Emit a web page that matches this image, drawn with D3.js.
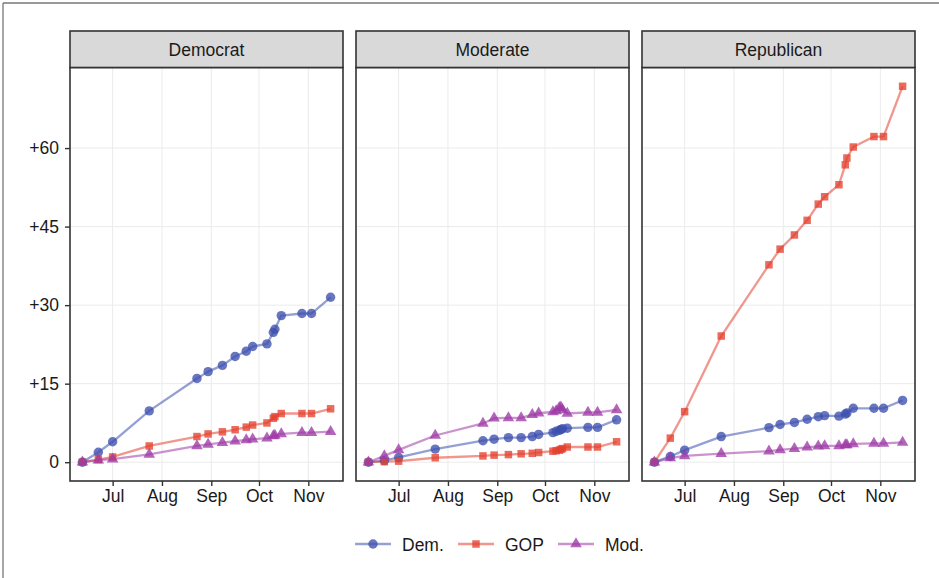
<!DOCTYPE html>
<html>
<head>
<meta charset="utf-8">
<script src="https://cdn.jsdelivr.net/npm/d3@7/dist/d3.min.js"></script>
<style>
  html, body { margin: 0; padding: 0; background: #fff; }
  svg { display: block; font-family: "Liberation Sans", Arial, sans-serif; }
</style>
</head>
<body>
<svg id="chart" width="939" height="578"></svg>
<script>
// ---- data ---------------------------------------------------------------
const panels = ["Democrat", "Moderate", "Republican"];
const seriesNames = ["Dem.", "GOP", "Mod."];
const monthTicks = ["2020-07-01", "2020-08-01", "2020-09-01", "2020-10-01", "2020-11-01"];
const monthLabels = ["Jul", "Aug", "Sep", "Oct", "Nov"];
const yTicks = [0, 15, 30, 45, 60];
const yTickLabels = ["0", "+15", "+30", "+45", "+60"];

// observation dates (Democrat and Republican panels)
const dates = ["2020-06-12", "2020-06-22", "2020-07-01", "2020-07-24", "2020-08-23",
  "2020-08-30", "2020-09-08", "2020-09-16", "2020-09-23", "2020-09-27", "2020-10-06",
  "2020-10-10", "2020-10-11", "2020-10-15", "2020-10-28", "2020-11-03", "2020-11-15"];
// Moderate panel has extra readings in mid-October
const datesModerate = ["2020-06-12", "2020-06-22", "2020-07-01", "2020-07-24", "2020-08-23",
  "2020-08-30", "2020-09-08", "2020-09-16", "2020-09-23", "2020-09-27", "2020-10-06",
  "2020-10-08", "2020-10-10", "2020-10-11", "2020-10-12", "2020-10-15", "2020-10-28",
  "2020-11-03", "2020-11-15"];

const democratDem = [0, 1.9, 3.9, 9.8, 16.0, 17.3, 18.5, 20.2, 21.2, 22.1, 22.6, 24.8, 25.4, 28.0, 28.4, 28.4, 31.5];
const democratGOP = [0, 0.5, 1.0, 3.1, 4.9, 5.4, 5.8, 6.2, 6.7, 7.1, 7.5, 8.4, 8.7, 9.3, 9.3, 9.3, 10.2];
const democratMod = [0, 0.4, 0.6, 1.5, 3.1, 3.4, 3.75, 4.0, 4.25, 4.4, 4.6, 5.0, 5.1, 5.4, 5.65, 5.65, 5.85];

const moderateDem = [0, 0.3, 0.9, 2.5, 4.1, 4.4, 4.7, 4.7, 4.9, 5.3, 5.65, 5.9, 6.1, 6.2, 6.4, 6.5, 6.65, 6.65, 8.1];
const moderateGOP = [0, 0.1, 0.2, 0.85, 1.2, 1.35, 1.45, 1.6, 1.7, 1.85, 2.1, 2.2, 2.3, 2.45, 2.6, 2.9, 2.9, 2.9, 3.9];
const moderateMod = [0, 1.2, 2.35, 5.1, 7.4, 8.4, 8.45, 8.45, 9.1, 9.35, 9.6, 9.8, 10.4, 10.5, 10.0, 9.3, 9.5, 9.5, 10.0];

const republicanDem = [0, 1.1, 2.3, 4.9, 6.6, 7.2, 7.6, 8.2, 8.7, 8.9, 8.8, 9.2, 9.4, 10.3, 10.3, 10.3, 11.8];
const republicanGOP = [0, 4.6, 9.65, 24.1, 37.7, 40.7, 43.4, 46.2, 49.3, 50.7, 53.0, 56.8, 58.1, 60.2, 62.2, 62.2, 71.8];
const republicanMod = [0, 0.8, 1.2, 1.65, 2.1, 2.35, 2.6, 2.85, 3.05, 3.1, 3.1, 3.3, 3.3, 3.5, 3.6, 3.6, 3.8];

// ---- assemble ------------------------------------------------------------
const parse = d3.timeParse("%Y-%m-%d");
const panelData = [
  { name: "Democrat", dates: dates, values: [democratDem, democratGOP, democratMod] },
  { name: "Moderate", dates: datesModerate, values: [moderateDem, moderateGOP, moderateMod] },
  { name: "Republican", dates: dates, values: [republicanDem, republicanGOP, republicanMod] }
].map(p => ({
  name: p.name,
  series: seriesNames.map((s, i) => ({
    key: s,
    points: p.dates.map((d, j) => ({ date: parse(d), value: p.values[i][j] }))
  }))
}));

// ---- styles --------------------------------------------------------------
const colors = { "Dem.": "#3D50AE", "GOP": "#E4402E", "Mod.": "#9E3AA6" };
const shapes = { "Dem.": d3.symbolCircle, "GOP": d3.symbolSquare, "Mod.": d3.symbolTriangle };
const sizes = { "Dem.": 70, "GOP": 56, "Mod.": 58 };
const lineAlpha = 0.55, pointAlpha = 0.78;
const fontSize = 17.5;

const svg = d3.select("#chart");
const W = 939, H = 578;

// frame lines along the top and left edges
svg.append("line").attr("x1", 3).attr("x2", W).attr("y1", 3).attr("y2", 3)
  .attr("stroke", "#777").attr("stroke-width", 1.3);
svg.append("line").attr("x1", 3).attr("x2", 3).attr("y1", 3).attr("y2", H)
  .attr("stroke", "#777").attr("stroke-width", 1.3);

const panelLeft = [70, 356, 642];
const panelWidth = 273;
const plotTop = 67.5, plotBottom = 481;
const stripTop = 31;

// shared scales (5% expansion like the usual faceted layout)
const allDates = panelData.flatMap(p => p.series.flatMap(s => s.points.map(d => d.date)));
const allVals = panelData.flatMap(p => p.series.flatMap(s => s.points.map(d => d.value)));
const [dMin, dMax] = d3.extent(allDates);
const dPad = (dMax - dMin) * 0.05;
const [vMin, vMax] = d3.extent(allVals);
const vPad = (vMax - vMin) * 0.05;

const y = d3.scaleLinear().domain([vMin - vPad, vMax + vPad]).range([plotBottom, plotTop]);

panelData.forEach((p, pi) => {
  const x0 = panelLeft[pi];
  const x = d3.scaleTime()
    .domain([new Date(+dMin - dPad), new Date(+dMax + dPad)])
    .range([x0, x0 + panelWidth]);

  const g = svg.append("g");

  // grid
  g.selectAll(".gy").data(yTicks).join("line")
    .attr("x1", x0).attr("x2", x0 + panelWidth)
    .attr("y1", d => y(d)).attr("y2", d => y(d))
    .attr("stroke", "#EBEBEB").attr("stroke-width", 1);
  g.selectAll(".gx").data(monthTicks).join("line")
    .attr("x1", d => x(parse(d))).attr("x2", d => x(parse(d)))
    .attr("y1", plotTop).attr("y2", plotBottom)
    .attr("stroke", "#EBEBEB").attr("stroke-width", 1);

  // lines
  const line = d3.line().x(d => x(d.date)).y(d => y(d.value));
  p.series.forEach(s => {
    g.append("path").datum(s.points)
      .attr("d", line)
      .attr("fill", "none")
      .attr("stroke", colors[s.key])
      .attr("stroke-opacity", lineAlpha)
      .attr("stroke-width", 2.3)
      .attr("stroke-linejoin", "round");
  });
  // points
  p.series.forEach(s => {
    g.selectAll(null).data(s.points).join("path")
      .attr("transform", d => `translate(${x(d.date)},${y(d.value)})`)
      .attr("d", d3.symbol().type(shapes[s.key]).size(sizes[s.key]))
      .attr("fill", colors[s.key])
      .attr("fill-opacity", pointAlpha);
  });

  // panel border
  g.append("rect")
    .attr("x", x0).attr("y", plotTop)
    .attr("width", panelWidth).attr("height", plotBottom - plotTop)
    .attr("fill", "none").attr("stroke", "#333").attr("stroke-width", 1.6);

  // strip
  g.append("rect")
    .attr("x", x0).attr("y", stripTop)
    .attr("width", panelWidth).attr("height", plotTop - stripTop)
    .attr("fill", "#D9D9D9").attr("stroke", "#333").attr("stroke-width", 1.6);
  g.append("text")
    .attr("x", x0 + panelWidth / 2).attr("y", (stripTop + plotTop) / 2 + 0.5)
    .attr("text-anchor", "middle").attr("dominant-baseline", "central")
    .attr("font-size", fontSize).attr("fill", "#1A1A1A")
    .text(p.name);

  // x axis
  const xAxis = d3.axisBottom(x)
    .tickValues(monthTicks.map(parse))
    .tickFormat((d, i) => monthLabels[i])
    .tickSize(5).tickPadding(4);
  const ax = g.append("g").attr("transform", `translate(0,${plotBottom})`).call(xAxis);
  ax.select(".domain").remove();
  ax.selectAll(".tick line").attr("stroke", "#333").attr("stroke-width", 1.4);
  ax.selectAll(".tick text").attr("font-size", fontSize).attr("fill", "#1A1A1A")
    .attr("font-family", "Liberation Sans, Arial, sans-serif");

  // y axis only on the first panel
  if (pi === 0) {
    const yAxis = d3.axisLeft(y)
      .tickValues(yTicks)
      .tickFormat((d, i) => yTickLabels[i])
      .tickSize(5).tickPadding(6);
    const ay = g.append("g").attr("transform", `translate(${x0},0)`).call(yAxis);
    ay.select(".domain").remove();
    ay.selectAll(".tick line").attr("stroke", "#333").attr("stroke-width", 1.4);
    ay.selectAll(".tick text").attr("font-size", fontSize).attr("fill", "#1A1A1A")
      .attr("font-family", "Liberation Sans, Arial, sans-serif");
  }
});

// legend
const legendItems = [
  { key: "Dem.", x: 355 },
  { key: "GOP", x: 458 },
  { key: "Mod.", x: 558 }
];
const ly = 544;
const lg = svg.append("g");
legendItems.forEach(it => {
  lg.append("line")
    .attr("x1", it.x).attr("x2", it.x + 36).attr("y1", ly).attr("y2", ly)
    .attr("stroke", colors[it.key]).attr("stroke-opacity", lineAlpha).attr("stroke-width", 2.3);
  lg.append("path")
    .attr("transform", `translate(${it.x + 18},${ly})`)
    .attr("d", d3.symbol().type(shapes[it.key]).size(sizes[it.key]))
    .attr("fill", colors[it.key]).attr("fill-opacity", pointAlpha);
  lg.append("text")
    .attr("x", it.x + 47).attr("y", ly + 0.5)
    .attr("dominant-baseline", "central")
    .attr("font-size", fontSize).attr("fill", "#1A1A1A")
    .text(it.key);
});
</script>
</body>
</html>
